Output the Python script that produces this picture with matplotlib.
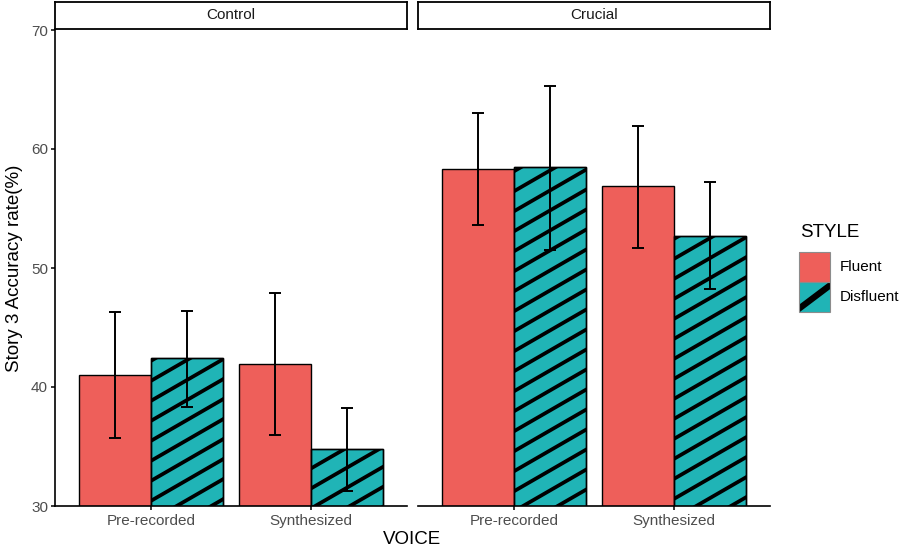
import numpy as np
import matplotlib
matplotlib.use("Agg")
import matplotlib.pyplot as plt
from matplotlib.patches import Rectangle
from matplotlib.lines import Line2D
from matplotlib.transforms import IdentityTransform

plt.rcParams['font.family'] = ['Liberation Sans', 'DejaVu Sans']

# ---- data ----
panels = ["Control", "Crucial"]
voices = ["Pre-recorded", "Synthesized"]
styles = ["Fluent", "Disfluent"]

# mean accuracy, [panel][voice][style]
control_mean = [[41.05, 42.4], [41.95, 34.8]]
crucial_mean = [[58.35, 58.45], [56.85, 52.7]]
# error bar limits (lower, upper)
control_lo = [[35.75, 38.35], [35.95, 31.3]]
control_hi = [[46.3, 46.4], [47.9, 38.25]]
crucial_lo = [[53.6, 51.55], [51.7, 48.2]]
crucial_hi = [[63.0, 65.3], [61.95, 57.25]]

y_ticks = [30, 40, 50, 60, 70]
colors = {"Fluent": "#EE5F5A", "Disfluent": "#20B4B6"}

W, H, DPI = 905, 555, 100
fig = plt.figure(figsize=(W / DPI, H / DPI), dpi=DPI)


def fx(px):
    return px / W


def fy(py):
    return 1 - py / H


panel_x = [(55, 407), (418, 770)]
plot_top, plot_bot = 30, 506
means = [control_mean, crucial_mean]
los = [control_lo, crucial_lo]
his = [control_hi, crucial_hi]

axes = []
striped = []
for p, (x0, x1) in enumerate(panel_x):
    ax = fig.add_axes([fx(x0), fy(plot_bot), fx(x1 - x0), (plot_bot - plot_top) / H])
    axes.append(ax)
    ax.set_xlim(0.4, 2.6)
    ax.set_ylim(30, 70)
    for s in ["top", "right"]:
        ax.spines[s].set_visible(False)
    ax.spines["bottom"].set_linewidth(1.2)
    ax.spines["left"].set_linewidth(1.2)
    ax.set_xticks([1, 2])
    ax.set_xticklabels(voices, fontsize=11, color="#4D4D4D")
    ax.tick_params(axis="x", length=3, width=1.1, color="black", pad=3)
    if p == 0:
        ax.set_yticks(y_ticks)
        ax.set_yticklabels([str(t) for t in y_ticks], fontsize=11, color="#4D4D4D")
        ax.tick_params(axis="y", length=3, width=1.1, color="black", pad=2)
    else:
        ax.spines["left"].set_visible(False)
        ax.set_yticks([])

    bw = 0.45
    for v in range(2):
        for s, style in enumerate(styles):
            xc = (v + 1) - bw / 2 + s * bw
            m = means[p][v][s]
            bar = ax.bar(xc, m, width=bw, color=colors[style], edgecolor="black",
                         linewidth=1.0, zorder=2)[0]
            ax.errorbar(xc, m, yerr=[[m - los[p][v][s]], [his[p][v][s] - m]],
                        fmt="none", ecolor="black", elinewidth=1.4, capsize=4.3,
                        capthick=1.4, zorder=4)
            if style == "Disfluent":
                striped.append((ax, bar))

    # strip label box
    sax = fig.add_axes([fx(x0), fy(29), fx(x1 - x0), 27.5 / H])
    sax.set_xticks([])
    sax.set_yticks([])
    for sp in sax.spines.values():
        sp.set_linewidth(1.3)
        sp.set_color("black")
    sax.text(0.5, 0.5, panels[p], ha="center", va="center", fontsize=11,
             color="#1A1A1A", transform=sax.transAxes)


def stripe_fill(x0, y0, x1, y1, slope, spacing, offset, lw, zorder):
    """Parallel black stripes clipped to a pixel-space rectangle."""
    clip = Rectangle((x0, y0), x1 - x0, y1 - y0, transform=IdentityTransform(),
                     fill=False, visible=False)
    fig.add_artist(clip)
    xa, xb = x0 - 5, x1 + 5
    cmin = y0 - slope * xb - spacing - offset
    cmax = y1 - slope * xa + spacing - offset
    for k in range(int(np.floor(cmin / spacing)), int(np.ceil(cmax / spacing)) + 1):
        c = k * spacing + offset
        ln = Line2D([xa, xb], [slope * xa + c, slope * xb + c], color="black",
                    linewidth=lw, transform=IdentityTransform(), zorder=zorder,
                    solid_capstyle="butt")
        ln.set_clip_path(clip)
        fig.add_artist(ln)


# diagonal stripe pattern on the Disfluent bars (drawn in pixel space)
fig.canvas.draw()
slope = np.tan(np.deg2rad(30))
for ax, bar in striped:
    bb = bar.get_window_extent()
    ybot = max(bb.y0, ax.get_window_extent().y0)
    stripe_fill(bb.x0, ybot, bb.x1, bb.y1, slope, 20.0, 7, 2.7, 3)
    # outline on top of the stripes
    ax.add_patch(Rectangle(bar.get_xy(), bar.get_width(), bar.get_height(),
                           fill=False, edgecolor="black", linewidth=1.0, zorder=3.5))

# axis titles
fig.text(fx(15), fy(268), "Story 3 Accuracy rate(%)", rotation=90, ha="center",
         va="center", fontsize=13.5, color="black")
fig.text(fx(412), fy(540), "VOICE", ha="center", va="center", fontsize=13.5,
         color="black")

# legend
fig.text(fx(800), fy(233), "STYLE", ha="left", va="center", fontsize=13.5, color="black")
kx0, kw, kh = 799, 31, 30
ky = [252, 282]
key_slope = np.tan(np.deg2rad(37))
for i, style in enumerate(styles):
    top = H - ky[i]
    bot = top - kh
    fig.add_artist(Rectangle((kx0, bot), kw, kh, transform=IdentityTransform(),
                             facecolor=colors[style], edgecolor="none", zorder=5))
    if style == "Disfluent":
        stripe_fill(kx0, bot, kx0 + kw, top, key_slope, 200.0,
                    bot + 15 - key_slope * (kx0 + kw / 2), 4.5, 6)
    fig.add_artist(Rectangle((kx0, bot), kw, kh, transform=IdentityTransform(),
                             fill=False, edgecolor="#8C8C8C", linewidth=0.8, zorder=7))
    fig.text(fx(840), fy(ky[i] + kh / 2), style, ha="left", va="center", fontsize=11,
             color="black")

fig.savefig("out.png", dpi=DPI)
